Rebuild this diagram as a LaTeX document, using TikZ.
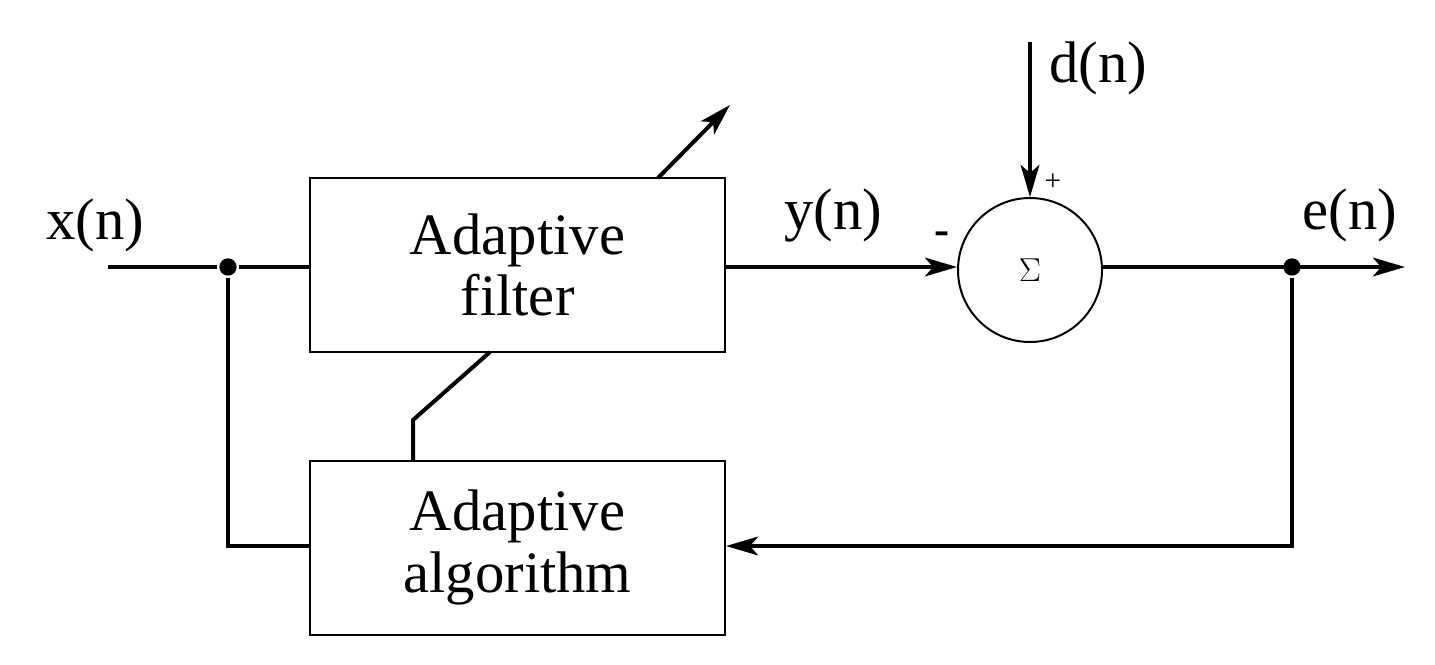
\documentclass[tikz,border=0pt]{standalone}
\usepackage{fontspec}
\setmainfont{Liberation Serif}
\usetikzlibrary{arrows.meta}
\begin{document}
\begin{tikzpicture}[x=0.75pt,y=-0.75pt,
  line width=3pt,
  box/.style={draw,line width=1.5pt,minimum width=311.25pt,minimum height=130.5pt,align=center,font=\fontsize{44}{46}\selectfont,inner sep=0pt},
  lbl/.style={font=\fontsize{44}{46}\selectfont,inner sep=0pt},
  arr/.style={-{Stealth[length=24pt,width=14pt,inset=6pt]}},
  dot/.style={circle,fill,inner sep=0pt,minimum size=13pt}]
\useasboundingbox (0,0) rectangle (1435,664);
\node[box] (flt) at (517.5,265) {Adaptive\\filter};
\node[box] (alg) at (517.5,547.5) {Adaptive\\algorithm};
\node[draw,circle,line width=1.5pt,minimum size=108pt,inner sep=0pt,font=\fontsize{64}{64}\selectfont] (sum) at (1030,270) {$\Sigma$};
\coordinate (in) at (108,267);
\node[dot] (d1) at (228,267) {};
\node[dot] (d2) at (1292,267) {};
\coordinate (out) at (1405,267);
\coordinate (dtop) at (1030,42);
\coordinate (c1) at (228,546);
\coordinate (c2) at (1292,546);
\coordinate (t1) at (658,178);
\coordinate (t2) at (730,105);
\coordinate (b1) at (413,460);
\coordinate (b2) at (413,420);
\coordinate (b3) at (490,352);
\draw (in) -- (d1) -- (flt.west |- d1);
\draw (d1) -- (c1) -- (alg.west |- c1);
\draw[arr] (flt.east |- 0,267) -- (sum.west |- 0,267);
\draw[arr] (dtop) -- (sum.north);
\draw[arr] (sum.east |- 0,267) -- (out);
\draw[arr] (d2) -- (c2) -- (alg.east |- c2);
\draw[arr] (t1) -- (t2);
\draw (b1) -- (b2) -- (b3);
\node[lbl] (xl) at (95,225) {x(n)};
\node[lbl] (yl) at (833,215) {y(n)};
\node[lbl] (el) at (1350,215) {e(n)};
\node[lbl] (dl) at (1098,68) {d(n)};
\node[font=\bfseries\fontsize{34}{34}\selectfont,inner sep=0pt] (mi) at (942,238) {-};
\node[font=\fontsize{22}{22}\selectfont,inner sep=0pt] (pl) at (1053,182) {+};
\end{tikzpicture}
\end{document}
